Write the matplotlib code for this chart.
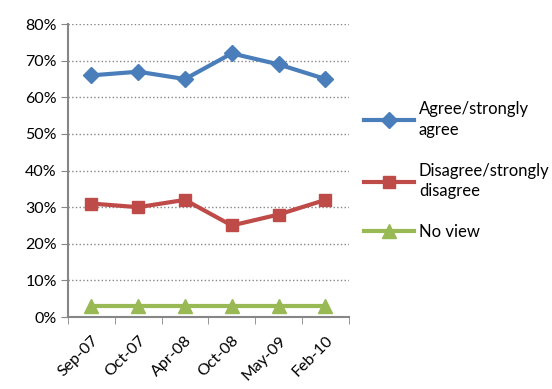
import numpy as np
import matplotlib.pyplot as plt
from matplotlib.ticker import FixedLocator, PercentFormatter

# Survey data
dates = ['Sep-07', 'Oct-07', 'Apr-08', 'Oct-08', 'May-09', 'Feb-10']
agree = [66, 67, 65, 72, 69, 65]
disagree = [31, 30, 32, 25, 28, 32]
no_view = [3, 3, 3, 3, 3, 3]

plt.rcParams['font.family'] = ['Lato', 'DejaVu Sans']

fig = plt.figure(figsize=(5.52, 3.89), dpi=100)
ax = fig.add_axes([0.123, 0.185, 0.509, 0.753])

x = np.arange(len(dates))
ax.plot(x, agree, color='#4a7ebb', lw=3, marker='D', ms=8, label='Agree/strongly\nagree')
ax.plot(x, disagree, color='#be4b48', lw=3, marker='s', ms=9, label='Disagree/strongly\ndisagree')
ax.plot(x, no_view, color='#98b954', lw=3, marker='^', ms=10, label='No view')

ax.set_xlim(-0.5, len(dates) - 0.5)
ax.set_ylim(0, 80)
ax.set_yticks(range(0, 81, 10))
ax.yaxis.set_major_formatter(PercentFormatter(decimals=0))
ax.set_xticks(x)
ax.set_xticklabels(dates, rotation=45, ha='right', rotation_mode='anchor')
ax.xaxis.set_minor_locator(FixedLocator(np.arange(-0.5, len(dates), 1)))
ax.tick_params(axis='x', which='major', length=0, pad=12, labelsize=11.5)
ax.tick_params(axis='x', which='minor', length=5, color='#868686', direction='out')
ax.tick_params(axis='y', length=5, color='#868686', labelsize=11.5, pad=3)

ax.grid(axis='y', color='#868686', linestyle=':', lw=1)
ax.set_axisbelow(True)
for s in ['top', 'right']:
    ax.spines[s].set_visible(False)
for s in ['left', 'bottom']:
    ax.spines[s].set_color('#868686')
    ax.spines[s].set_linewidth(1.5)

leg = ax.legend(loc='center left', bbox_to_anchor=(1.0, 0.5), frameon=False,
                fontsize=12, handlelength=3, labelspacing=1.5, handletextpad=0.3)
for t in leg.get_texts():
    t.set_linespacing(1.35)

fig.savefig('out.png', dpi=100)
